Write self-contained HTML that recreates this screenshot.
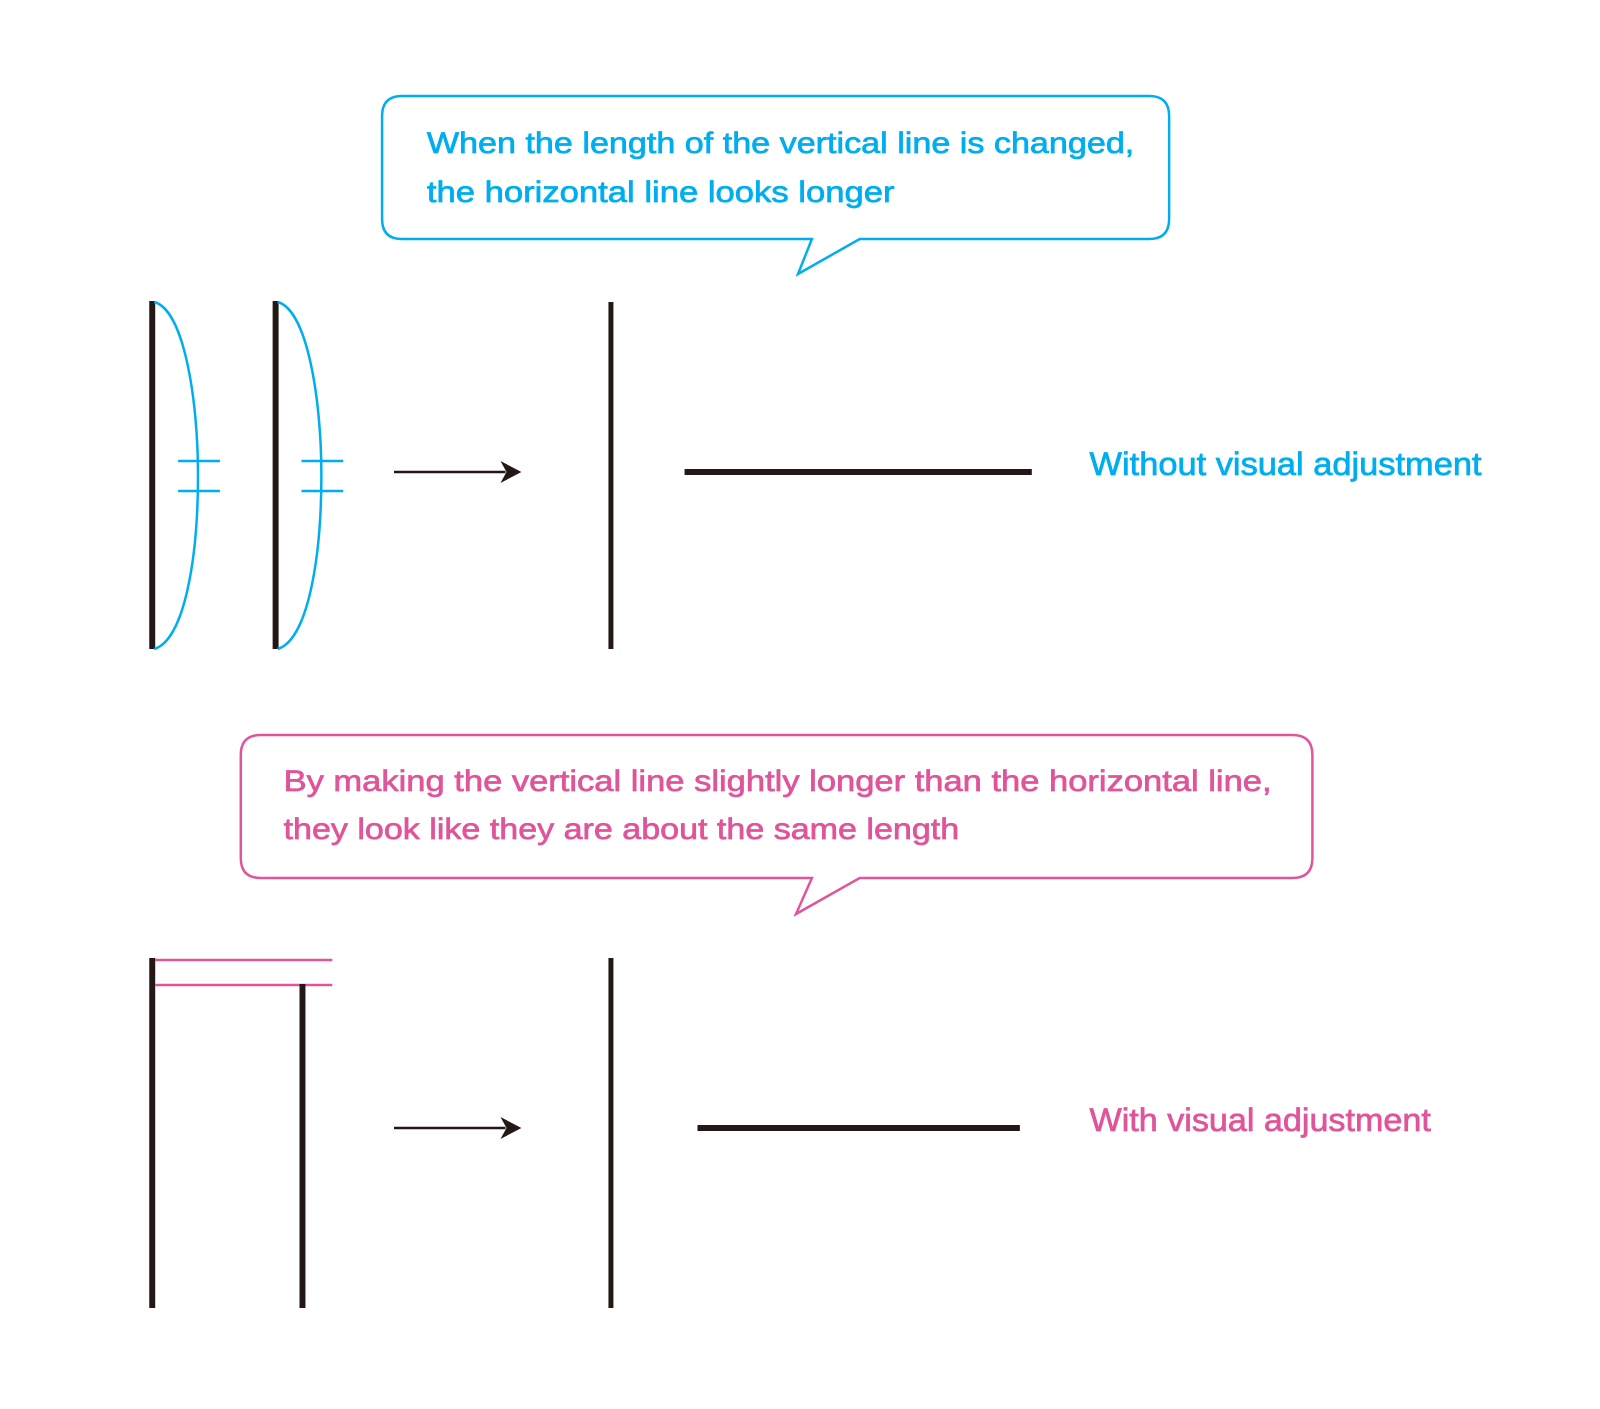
<!DOCTYPE html>
<html><head><meta charset="utf-8"><style>
html,body{margin:0;padding:0;background:#fff;}
svg{display:block;}
text{font-family:"Liberation Sans",sans-serif;}
</style></head><body>
<svg width="1600" height="1409" viewBox="0 0 1600 1409" xmlns="http://www.w3.org/2000/svg">
<g transform="scale(0.995,1)">
<!-- top bubble -->
<path d="M404,96 H1155 Q1175,96 1175,116 V219 Q1175,239 1155,239 H864 L802,274 L816,239 H404 Q384,239 384,219 V116 Q384,96 404,96 Z" fill="#fff" stroke="#00AEEF" stroke-width="2.5"/>
<g fill="#00AEEF" stroke="#00AEEF" stroke-width="0.7">
<text x="429" y="153" font-size="30" textLength="711" lengthAdjust="spacingAndGlyphs">When the length of the vertical line is changed,</text>
<text x="429" y="202" font-size="30" textLength="470" lengthAdjust="spacingAndGlyphs">the horizontal line looks longer</text>
<text x="1095" y="475" font-size="32" textLength="394" lengthAdjust="spacingAndGlyphs">Without visual adjustment</text>
</g>
<!-- top figure -->
<line x1="153" y1="301" x2="153" y2="649" stroke="#231815" stroke-width="6"/>
<path d="M155,302 C185,310 199,400 199,475 C199,560 185,640 155,649" fill="none" stroke="#00AEEF" stroke-width="2.5"/>
<line x1="179" y1="461" x2="221" y2="461" stroke="#00AEEF" stroke-width="2.5"/>
<line x1="179" y1="491" x2="221" y2="491" stroke="#00AEEF" stroke-width="2.5"/>
<line x1="277" y1="301" x2="277" y2="649" stroke="#231815" stroke-width="6"/>
<path d="M279,302 C309,310 323,400 323,475 C323,560 309,640 279,649" fill="none" stroke="#00AEEF" stroke-width="2.5"/>
<line x1="303" y1="461" x2="345" y2="461" stroke="#00AEEF" stroke-width="2.5"/>
<line x1="303" y1="491" x2="345" y2="491" stroke="#00AEEF" stroke-width="2.5"/>
<line x1="396" y1="472" x2="508" y2="472" stroke="#231815" stroke-width="2.5"/>
<path d="M503,461 L524,472 L503,483 L509,472 Z" fill="#231815"/>
<line x1="614" y1="302" x2="614" y2="649" stroke="#231815" stroke-width="5"/>
<line x1="688" y1="472" x2="1037" y2="472" stroke="#231815" stroke-width="6"/>
<!-- bottom bubble -->
<path d="M262,735 H1299 Q1319,735 1319,755 V858 Q1319,878 1299,878 H864 L800,914 L816,878 H262 Q242,878 242,858 V755 Q242,735 262,735 Z" fill="#fff" stroke="#E0559A" stroke-width="2.5"/>
<g fill="#E0559A" stroke="#E0559A" stroke-width="0.7">
<text x="285" y="791" font-size="30" textLength="993" lengthAdjust="spacingAndGlyphs">By making the vertical line slightly longer than the horizontal line,</text>
<text x="285" y="839" font-size="30" textLength="679" lengthAdjust="spacingAndGlyphs">they look like they are about the same length</text>
<text x="1095" y="1131" font-size="32" textLength="343" lengthAdjust="spacingAndGlyphs">With visual adjustment</text>
</g>
<!-- bottom figure -->
<line x1="153" y1="958" x2="153" y2="1308" stroke="#231815" stroke-width="6"/>
<line x1="156" y1="960" x2="334" y2="960" stroke="#E0559A" stroke-width="2.5"/>
<line x1="156" y1="985" x2="334" y2="985" stroke="#E0559A" stroke-width="2.5"/>
<line x1="304" y1="984" x2="304" y2="1308" stroke="#231815" stroke-width="6"/>
<line x1="396" y1="1128" x2="508" y2="1128" stroke="#231815" stroke-width="2.5"/>
<path d="M503,1117 L524,1128 L503,1139 L509,1128 Z" fill="#231815"/>
<line x1="614" y1="958" x2="614" y2="1308" stroke="#231815" stroke-width="5"/>
<line x1="701" y1="1128" x2="1025" y2="1128" stroke="#231815" stroke-width="6"/>
</g>
</svg>
</body></html>
